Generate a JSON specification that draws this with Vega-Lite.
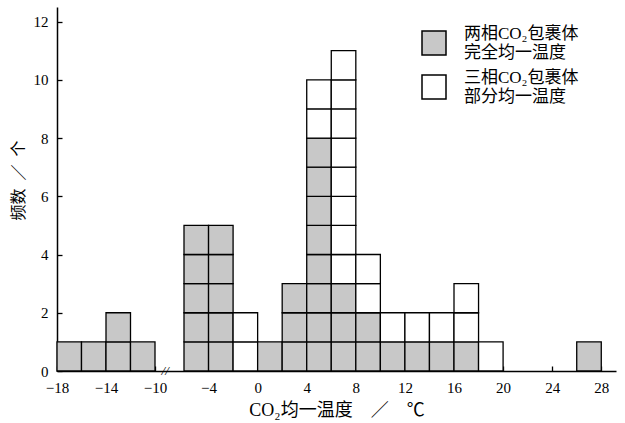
{
  "$schema": "https://vega.github.io/schema/vega-lite/v6.json",
  "width": 559,
  "height": 364,
  "autosize": {"type": "none"},
  "padding": {"left": 57, "top": 7, "right": 9, "bottom": 52},
  "background": "white",
  "config": {"view": {"stroke": null}, "font": "Liberation Serif", "axis": {"labelOverlap": false}},
  "datasets": {
    "cells": [
      {"a": -18, "b": -16, "t": "A", "n": 1},
      {"a": -16, "b": -14, "t": "A", "n": 1},
      {"a": -14, "b": -12, "t": "A", "n": 1},
      {"a": -14, "b": -12, "t": "A", "n": 1},
      {"a": -12, "b": -10, "t": "A", "n": 1},
      {"a": -6, "b": -4, "t": "A", "n": 1},
      {"a": -6, "b": -4, "t": "A", "n": 1},
      {"a": -6, "b": -4, "t": "A", "n": 1},
      {"a": -6, "b": -4, "t": "A", "n": 1},
      {"a": -6, "b": -4, "t": "A", "n": 1},
      {"a": -4, "b": -2, "t": "A", "n": 1},
      {"a": -4, "b": -2, "t": "A", "n": 1},
      {"a": -4, "b": -2, "t": "A", "n": 1},
      {"a": -4, "b": -2, "t": "A", "n": 1},
      {"a": -4, "b": -2, "t": "A", "n": 1},
      {"a": -2, "b": 0, "t": "B", "n": 1},
      {"a": -2, "b": 0, "t": "B", "n": 1},
      {"a": 0, "b": 2, "t": "A", "n": 1},
      {"a": 2, "b": 4, "t": "A", "n": 1},
      {"a": 2, "b": 4, "t": "A", "n": 1},
      {"a": 2, "b": 4, "t": "A", "n": 1},
      {"a": 4, "b": 6, "t": "A", "n": 1},
      {"a": 4, "b": 6, "t": "A", "n": 1},
      {"a": 4, "b": 6, "t": "A", "n": 1},
      {"a": 4, "b": 6, "t": "A", "n": 1},
      {"a": 4, "b": 6, "t": "A", "n": 1},
      {"a": 4, "b": 6, "t": "A", "n": 1},
      {"a": 4, "b": 6, "t": "A", "n": 1},
      {"a": 4, "b": 6, "t": "A", "n": 1},
      {"a": 4, "b": 6, "t": "B", "n": 1},
      {"a": 4, "b": 6, "t": "B", "n": 1},
      {"a": 6, "b": 8, "t": "A", "n": 1},
      {"a": 6, "b": 8, "t": "A", "n": 1},
      {"a": 6, "b": 8, "t": "A", "n": 1},
      {"a": 6, "b": 8, "t": "B", "n": 1},
      {"a": 6, "b": 8, "t": "B", "n": 1},
      {"a": 6, "b": 8, "t": "B", "n": 1},
      {"a": 6, "b": 8, "t": "B", "n": 1},
      {"a": 6, "b": 8, "t": "B", "n": 1},
      {"a": 6, "b": 8, "t": "B", "n": 1},
      {"a": 6, "b": 8, "t": "B", "n": 1},
      {"a": 6, "b": 8, "t": "B", "n": 1},
      {"a": 8, "b": 10, "t": "A", "n": 1},
      {"a": 8, "b": 10, "t": "A", "n": 1},
      {"a": 8, "b": 10, "t": "B", "n": 1},
      {"a": 8, "b": 10, "t": "B", "n": 1},
      {"a": 10, "b": 12, "t": "A", "n": 1},
      {"a": 10, "b": 12, "t": "B", "n": 1},
      {"a": 12, "b": 14, "t": "A", "n": 1},
      {"a": 12, "b": 14, "t": "B", "n": 1},
      {"a": 14, "b": 16, "t": "A", "n": 1},
      {"a": 14, "b": 16, "t": "B", "n": 1},
      {"a": 16, "b": 18, "t": "A", "n": 1},
      {"a": 16, "b": 18, "t": "B", "n": 1},
      {"a": 16, "b": 18, "t": "B", "n": 1},
      {"a": 18, "b": 20, "t": "B", "n": 1},
      {"a": 26, "b": 28, "t": "A", "n": 1}
    ],
    "brk": [{"x": -8.6, "y": 0, "s": "//"}]
  },
  "layer": [
    {
      "data": {"name": "cells"},
      "mark": {"type": "bar", "orient": "vertical", "stroke": "black", "strokeWidth": 1.3},
      "encoding": {
        "x": {
          "field": "a",
          "type": "quantitative",
          "scale": {"domain": [-18, -10, -6, 29.2], "range": [0, 98, 127, 559], "nice": false, "zero": false, "padding": 0},
          "axis": {
            "values": [-18, -14, -10, -4, 0, 4, 8, 12, 16, 20, 24, 28],
            "title": "CO₂均一温度\u2003／\u2003℃",
            "grid": false,
            "tickSize": -5,
            "tickColor": "black",
            "tickWidth": 1.3,
            "domainColor": "black",
            "domainWidth": 1.5,
            "labelPadding": 14,
            "labelFont": "Liberation Serif",
            "labelFontSize": 15,
            "labelColor": "black",
            "labelFlush": false,
            "labelOverlap": false,
            "titleFont": "Liberation Serif, Noto Sans CJK SC",
            "titleFontSize": 18,
            "titleFontWeight": "normal",
            "titleColor": "black",
            "titlePadding": 6
          }
        },
        "x2": {"field": "b"},
        "y": {
          "field": "n",
          "type": "quantitative",
          "stack": "zero",
          "scale": {"domain": [0, 12.5], "nice": false},
          "axis": {
            "values": [0, 2, 4, 6, 8, 10, 12],
            "title": "频数\u2002／\u2002个",
            "grid": false,
            "tickSize": -5,
            "tickColor": "black",
            "tickWidth": 1.3,
            "domainColor": "black",
            "domainWidth": 1.5,
            "labelPadding": 14,
            "labelFont": "Liberation Serif",
            "labelFontSize": 15,
            "labelColor": "black",
            "labelFlush": false,
            "titleFont": "Noto Sans CJK SC",
            "titleFontSize": 16,
            "titleFontWeight": "normal",
            "titleColor": "black",
            "titlePadding": 7,
            "titleY": 173
          }
        },
        "fill": {
          "field": "t",
          "type": "nominal",
          "scale": {"domain": ["A", "B"], "range": ["#c8c8c8", "#ffffff"]},
          "legend": {
            "orient": "none",
            "legendX": 364,
            "legendY": 23,
            "title": null,
            "symbolType": "square",
            "symbolSize": 576,
            "symbolStrokeColor": "black",
            "symbolStrokeWidth": 1.5,
            "symbolOpacity": 1,
            "labelExpr": "datum.value == 'A' ? ['两相CO₂包裹体','完全均一温度'] : ['三相CO₂包裹体','部分均一温度']",
            "labelFont": "Liberation Serif, Noto Sans CJK SC",
            "labelFontSize": 17,
            "labelBaseline": "bottom",
            "labelColor": "black",
            "labelOffset": 17,
            "labelLimit": 300,
            "rowPadding": 8
          }
        },
        "order": {"field": "t"}
      }
    },
    {
      "data": {"name": "brk"},
      "mark": {"type": "text", "fontSize": 13, "fontStyle": "italic", "baseline": "middle", "font": "Liberation Serif"},
      "encoding": {
        "x": {"field": "x", "type": "quantitative"},
        "y": {"field": "y", "type": "quantitative"},
        "text": {"field": "s"}
      }
    }
  ]
}
